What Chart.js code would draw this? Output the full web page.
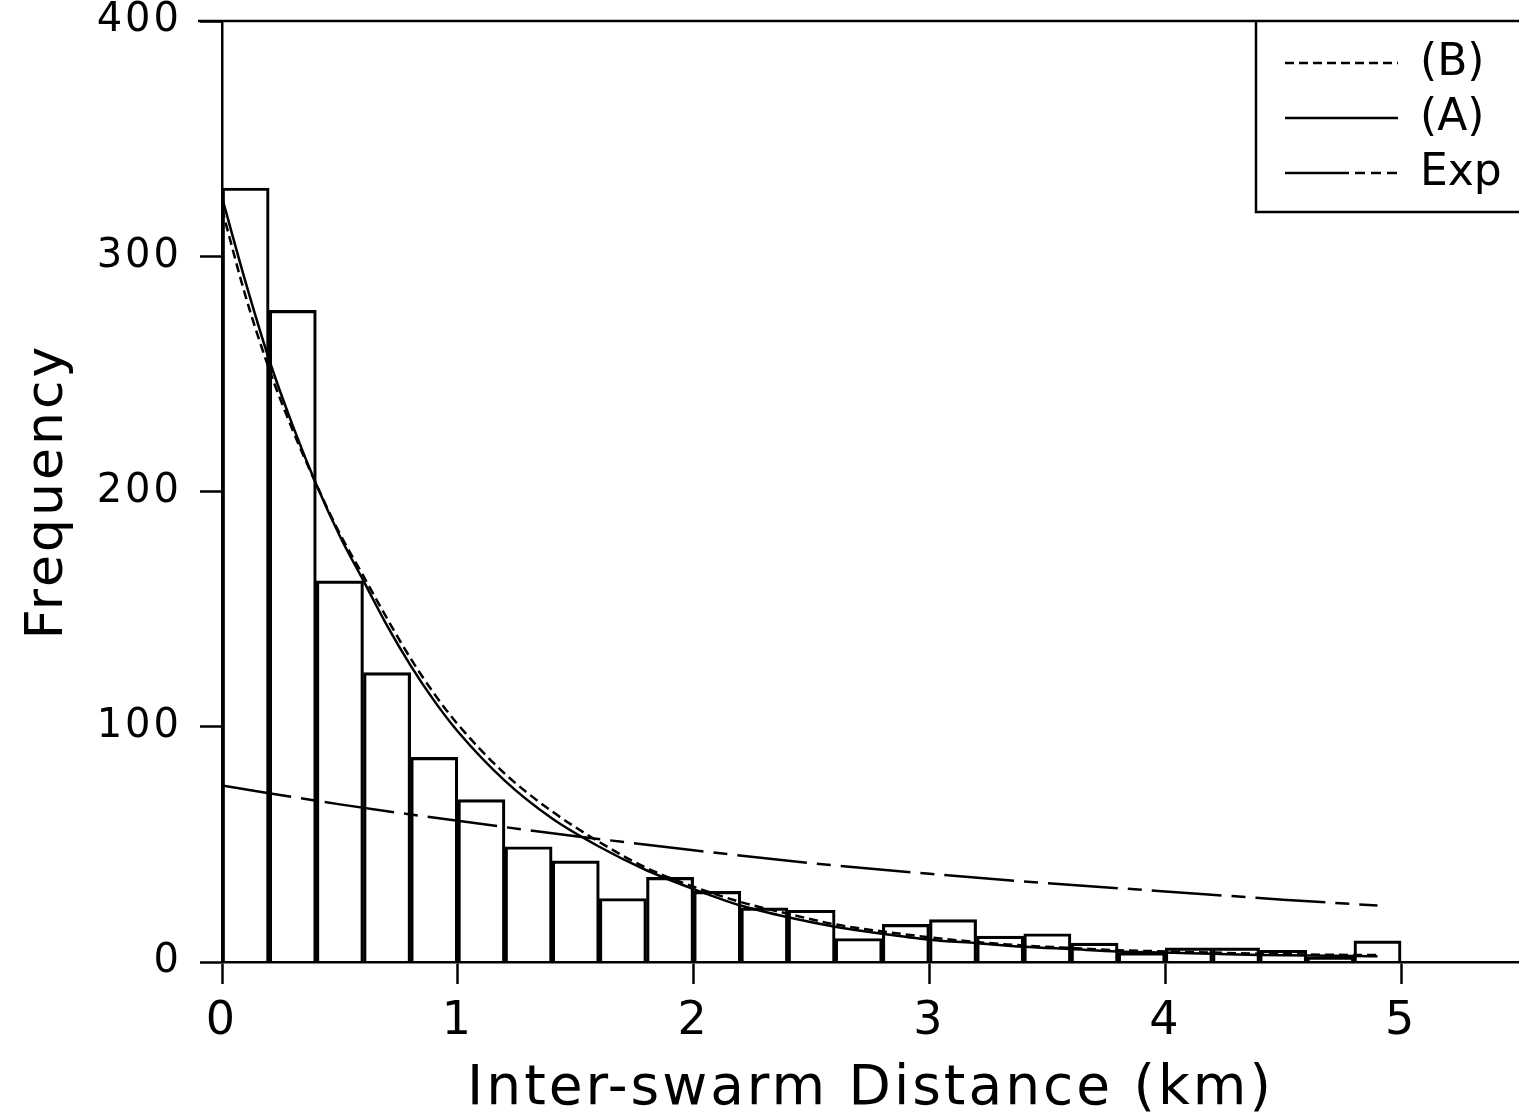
<!DOCTYPE html>
<html>
<head>
<meta charset="utf-8">
<script src="https://cdn.jsdelivr.net/npm/chart.js@4"></script>
<style>
  html, body { margin: 0; padding: 0; background: #fff; }
  canvas { display: block; }
</style>
</head>
<body>
<canvas id="c" width="1519" height="1119"></canvas>
<script>
// ---- data ----
const binCenters = [0.1,0.3,0.5,0.7,0.9,1.1,1.3,1.5,1.7,1.9,2.1,2.3,2.5,2.7,2.9,3.1,3.3,3.5,3.7,3.9,4.1,4.3,4.5,4.7,4.9];
const frequencies = [329,277,162,123,87,69,49,43,27,36,30,23,22,10,16,18,11,12,8,4,6,6,5,2,9];

const curveX = [0,0.1,0.2,0.3,0.4,0.5,0.6,0.7,0.8,0.9,1.0,1.2,1.4,1.6,1.8,2.0,2.2,2.4,2.6,2.8,3.0,3.2,3.4,3.6,3.8,4.0,4.2,4.4,4.6,4.8,4.9];
const fitA = [325,289,256,228,203,181,162,143,126,111,98,77,61,49,39,31,24,19,15,12,9.5,8,6.5,5.5,4.5,4,3.5,3,2.8,2.5,2.4];
const fitB = [320,283,252,226,203,182,164,146,129,114,101,80,64,51,40,32,25.5,20.5,16,13,10.5,8.5,7,6,5,4.5,4,3.5,3.2,3,3];

const expX = [0,0.5,1,1.5,2,2.5,3,3.5,4,4.5,4.9];
const expFit = [75,67,60,53.5,47.5,42,37.5,33.5,30,26.5,24];

const xTicks = [0,1,2,3,4,5];
const yTicks = [0,100,200,300,400];
const seriesLabels = ['(B)', '(A)', 'Exp'];

const toPts = (xs, ys) => xs.map((x, i) => ({x: x, y: ys[i]}));

const baseFont = "'DejaVu Sans', sans-serif";

// letter spacing to mimic the wide plotting font
const spacingPlugin = {
  id: 'spacing',
  beforeDraw(chart) { chart.ctx.letterSpacing = '3px'; },
  afterDraw(chart) { chart.ctx.letterSpacing = '0px'; }
};

// frame + boxed legend
const framePlugin = {
  id: 'frame',
  afterDraw(chart) {
    const ctx = chart.ctx;
    const a = chart.chartArea;
    ctx.save();
    ctx.letterSpacing = '0px';
    ctx.strokeStyle = '#000';
    ctx.lineWidth = 2.5;
    ctx.beginPath();
    ctx.moveTo(a.left - 24, a.top);
    ctx.lineTo(a.right, a.top);
    ctx.stroke();

    // legend box
    const bx = a.right - 263, by = a.top, bh = 191;
    ctx.beginPath();
    ctx.moveTo(bx, by);
    ctx.lineTo(bx, by + bh);
    ctx.lineTo(a.right, by + bh);
    ctx.stroke();

    const order = [2, 1, 0]; // (B), (A), Exp dataset indexes
    order.forEach((di, k) => {
      const ds = chart.data.datasets[di];
      const yy = by + 42 + k * 55;
      ctx.save();
      ctx.lineWidth = 2.5;
      ctx.setLineDash(ds.legendDash || ds.borderDash || []);
      ctx.beginPath();
      ctx.moveTo(bx + 29, yy);
      ctx.lineTo(bx + 142, yy);
      ctx.stroke();
      ctx.restore();
      ctx.fillStyle = '#000';
      ctx.font = "44px " + baseFont;
      ctx.textBaseline = 'middle';
      ctx.textAlign = 'left';
      ctx.fillText(ds.label, bx + 164, yy + 1);
    });
    ctx.restore();
  }
};

new Chart(document.getElementById('c'), {
  data: {
    datasets: [
      {
        type: 'line',
        label: seriesLabels[2],
        data: toPts(expX, expFit),
        borderColor: '#000',
        borderWidth: 2.5,
        borderDash: [70, 10, 14, 10],
        legendDash: [64, 6, 10, 6, 10, 6, 10],
        pointRadius: 0,
        cubicInterpolationMode: 'monotone',
        fill: false,
        order: 1
      },
      {
        type: 'line',
        label: seriesLabels[1],
        data: toPts(curveX, fitA),
        borderColor: '#000',
        borderWidth: 2.5,
        pointRadius: 0,
        cubicInterpolationMode: 'monotone',
        fill: false,
        order: 1
      },
      {
        type: 'line',
        label: seriesLabels[0],
        data: toPts(curveX, fitB),
        borderColor: '#000',
        borderWidth: 2.5,
        borderDash: [9, 5],
        pointRadius: 0,
        cubicInterpolationMode: 'monotone',
        fill: false,
        order: 1
      },
      {
        type: 'bar',
        label: 'Frequency',
        data: toPts(binCenters, frequencies),
        backgroundColor: 'rgba(0,0,0,0)',
        borderColor: '#000',
        borderWidth: 2.5,
        barPercentage: 1,
        categoryPercentage: 1,
        order: 5
      }
    ]
  },
  options: {
    responsive: false,
    animation: false,
    events: [],
    layout: { padding: { top: 21, left: 0, right: 0, bottom: 0 } },
    plugins: {
      legend: { display: false },
      tooltip: { enabled: false }
    },
    scales: {
      x: {
        type: 'linear',
        min: 0,
        max: 5.5,
        offset: false,
        afterBuildTicks: s => { s.ticks = xTicks.map(v => ({value: v})); },
        afterFit: s => { s.height = 157; },
        grid: { offset: false, drawOnChartArea: false, drawTicks: true, tickLength: 22, tickWidth: 2.5, tickColor: '#000' },
        border: { display: true, color: '#000', width: 2.5 },
        ticks: {
          color: '#000',
          padding: 15,
          maxRotation: 0,
          font: { family: baseFont, size: 46, lineHeight: 1 }
        },
        title: {
          display: true,
          text: 'Inter-swarm Distance (km)',
          color: '#000',
          padding: { top: 0, bottom: 2 },
          font: { family: baseFont, size: 55, lineHeight: 1 }
        }
      },
      y: {
        type: 'linear',
        min: 0,
        max: 400,
        afterBuildTicks: s => { s.ticks = yTicks.map(v => ({value: v})); },
        afterFit: s => { s.width = 222; },
        grid: { drawOnChartArea: false, drawTicks: true, tickLength: 22, tickWidth: 2.5, tickColor: '#000' },
        border: { display: true, color: '#000', width: 2.5 },
        ticks: {
          color: '#000',
          padding: 18,
          font: { family: baseFont, size: 40, lineHeight: 0.1 }
        },
        title: {
          display: true,
          text: 'Frequency',
          color: '#000',
          padding: { top: 22, bottom: 0 },
          font: { family: baseFont, size: 52, lineHeight: 1 }
        }
      }
    }
  },
  plugins: [spacingPlugin, framePlugin]
});
</script>
</body>
</html>
